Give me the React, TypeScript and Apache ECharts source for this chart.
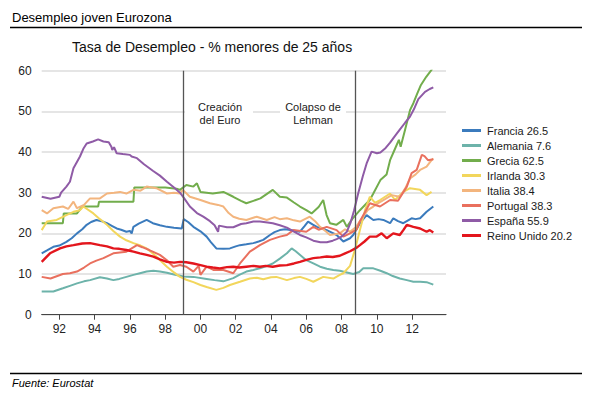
import React, { useEffect, useRef } from "react";
import * as echarts from "echarts";

const seriesNames = [
  "Francia 26.5",
  "Alemania 7.6",
  "Grecia 62.5",
  "Irlanda 30.3",
  "Italia 38.4",
  "Portugal 38.3",
  "España 55.9",
  "Reino Unido 20.2",
];

const seriesColors = ["#3b7bbd", "#6db3aa", "#72ad4c", "#f2d65c", "#f3b57e", "#e9705e", "#8f5ba6", "#e3161d"];

const xTickYears = [1992, 1994, 1996, 1998, 2000, 2002, 2004, 2006, 2008, 2010, 2012];
const yTicks = [0, 10, 20, 30, 40, 50, 60];

const euroYear = 1999.0;
const lehmanYear = 2008.75;

const francia = [[1991.0,15.1],[1991.3,15.8],[1991.66,16.7],[1992.0,17.0],[1992.4,17.9],[1992.7,18.8],[1993.0,20.0],[1993.3,21.0],[1993.55,22.1],[1993.8,22.8],[1994.1,23.3],[1994.4,23.0],[1994.7,22.5],[1995.0,21.8],[1995.25,21.2],[1995.5,20.9],[1995.8,20.4],[1996.0,20.6],[1996.1,20.0],[1996.2,21.6],[1996.5,22.4],[1996.95,23.3],[1997.3,22.5],[1997.7,22.0],[1998.1,21.6],[1998.5,21.4],[1998.94,21.2],[1999.05,23.5],[1999.3,22.8],[1999.6,21.6],[2000.0,20.5],[2000.35,19.2],[2000.6,17.8],[2000.9,16.3],[2001.3,16.2],[2001.67,16.3],[2002.0,16.8],[2002.24,17.1],[2002.6,17.3],[2003.0,17.6],[2003.3,18.0],[2003.56,18.4],[2003.94,19.6],[2004.2,20.3],[2004.5,20.8],[2004.8,21.0],[2005.1,20.8],[2005.4,20.6],[2005.64,20.4],[2005.9,21.8],[2006.1,22.9],[2006.35,22.2],[2006.6,21.6],[2006.9,21.2],[2007.16,20.8],[2007.45,20.2],[2007.72,19.6],[2008.1,18.0],[2008.48,18.8],[2008.66,19.6],[2009.04,22.5],[2009.42,24.5],[2009.8,23.3],[2010.1,23.5],[2010.37,23.3],[2010.75,22.5],[2010.93,23.7],[2011.2,23.0],[2011.5,22.5],[2011.97,23.7],[2012.2,23.5],[2012.45,23.7],[2012.82,25.3],[2013.2,26.6]];

const alemania = [[1991.0,5.7],[1991.66,5.7],[1992.2,6.5],[1992.6,7.1],[1993.0,7.7],[1993.4,8.2],[1993.74,8.5],[1994.3,9.2],[1994.7,8.9],[1995.06,8.5],[1995.4,8.8],[1995.8,9.3],[1996.2,9.8],[1996.57,10.2],[1996.95,10.6],[1997.33,10.8],[1997.7,10.6],[1998.1,10.3],[1998.5,9.9],[1999.03,9.4],[1999.6,9.3],[2000.35,8.8],[2000.8,8.5],[2001.3,8.2],[2001.86,9.0],[2002.2,9.8],[2002.6,10.6],[2003.0,11.0],[2003.37,11.4],[2003.7,11.9],[2004.1,12.6],[2004.5,13.8],[2004.9,15.1],[2005.17,16.3],[2005.4,15.6],[2005.7,14.5],[2006.0,13.4],[2006.4,12.6],[2006.78,11.8],[2007.16,11.3],[2007.53,11.0],[2007.9,10.8],[2008.3,10.4],[2008.66,10.0],[2009.0,10.5],[2009.23,11.4],[2009.8,11.4],[2010.2,10.8],[2010.56,10.2],[2010.9,9.5],[2011.3,8.9],[2011.7,8.5],[2012.07,8.1],[2012.45,8.1],[2012.82,8.0],[2013.2,7.4]];

const grecia = [[1991.0,22.5],[1992.2,22.5],[1992.25,24.9],[1993.0,24.9],[1993.3,26.6],[1994.2,26.6],[1994.25,27.8],[1996.2,27.8],[1996.25,31.3],[1998.0,31.3],[1998.65,31.0],[1998.84,30.7],[1999.2,31.9],[1999.6,31.5],[1999.8,32.3],[2000.0,30.2],[2000.7,29.8],[2001.3,30.2],[2001.86,29.0],[2002.3,28.0],[2002.6,27.4],[2003.0,28.0],[2003.4,28.6],[2004.1,30.7],[2004.5,29.0],[2004.9,28.8],[2005.3,27.6],[2005.64,26.6],[2006.0,25.7],[2006.3,24.9],[2006.7,26.5],[2006.96,28.2],[2007.15,24.5],[2007.34,22.5],[2007.7,22.1],[2008.1,23.3],[2008.3,21.6],[2008.6,23.5],[2009.04,25.7],[2009.6,28.2],[2009.8,29.8],[2010.2,33.1],[2010.55,34.5],[2010.75,38.0],[2011.0,40.5],[2011.25,43.0],[2011.35,41.3],[2011.6,45.5],[2011.88,50.3],[2012.07,52.0],[2012.3,54.5],[2012.5,56.5],[2012.8,58.5],[2013.1,60.2],[2013.2,61.5]];

const irlanda = [[1991.0,20.8],[1991.3,22.9],[1991.85,23.3],[1992.4,24.5],[1992.8,25.3],[1993.17,25.7],[1993.36,26.6],[1993.93,24.9],[1994.3,23.5],[1994.7,22.1],[1995.06,20.6],[1995.44,19.2],[1995.8,18.3],[1996.2,17.6],[1996.6,17.0],[1996.95,16.3],[1997.2,15.4],[1997.5,14.3],[1997.8,13.0],[1998.1,11.8],[1998.5,10.4],[1998.84,9.3],[1999.2,8.6],[1999.6,8.0],[2000.0,7.3],[2000.35,6.8],[2000.9,6.1],[2001.3,6.6],[2001.67,7.3],[2002.24,8.1],[2002.8,8.9],[2003.2,9.1],[2003.56,8.7],[2004.0,9.2],[2004.3,9.3],[2004.9,8.5],[2005.3,9.0],[2005.64,9.3],[2006.0,8.8],[2006.4,8.1],[2006.96,9.3],[2007.53,8.9],[2007.9,9.8],[2008.1,10.2],[2008.48,12.0],[2008.76,16.0],[2009.04,20.8],[2009.33,25.7],[2009.6,29.0],[2009.9,27.5],[2010.18,28.2],[2010.75,29.8],[2011.03,28.2],[2011.5,30.2],[2011.88,31.1],[2012.45,30.7],[2012.82,29.4],[2013.1,30.2]];

const italia = [[1991.0,25.7],[1991.3,24.9],[1991.66,26.2],[1992.2,26.6],[1992.5,26.0],[1992.8,27.8],[1993.0,26.2],[1993.4,27.0],[1993.74,28.6],[1994.3,28.6],[1994.7,29.8],[1995.1,30.0],[1995.44,30.2],[1995.8,29.8],[1996.2,30.7],[1996.6,30.5],[1996.95,31.5],[1997.5,31.1],[1998.1,29.8],[1998.5,30.0],[1998.84,29.8],[1999.0,30.7],[1999.4,29.0],[2000.0,28.2],[2000.54,27.4],[2001.0,27.0],[2001.3,26.6],[2001.6,25.0],[2001.86,24.1],[2002.2,23.6],[2002.6,23.3],[2003.19,24.1],[2003.76,23.3],[2004.2,24.0],[2004.5,23.5],[2004.9,23.7],[2005.3,23.2],[2005.64,22.9],[2006.2,24.1],[2006.5,23.0],[2006.78,21.6],[2007.1,20.5],[2007.34,19.6],[2007.9,20.0],[2008.2,21.0],[2008.48,20.4],[2008.8,21.5],[2009.2,24.0],[2009.5,25.8],[2009.8,26.6],[2010.1,27.5],[2010.37,28.2],[2010.84,29.4],[2011.3,29.0],[2011.6,31.0],[2011.88,33.5],[2012.2,34.5],[2012.45,35.6],[2012.82,36.4],[2013.1,38.0],[2013.2,38.4]];

const portugal = [[1991.0,9.3],[1991.5,8.9],[1992.2,10.0],[1992.6,10.2],[1993.0,10.6],[1993.4,11.6],[1993.74,12.6],[1994.1,13.3],[1994.5,13.9],[1995.06,15.1],[1995.8,15.5],[1996.1,16.3],[1996.4,17.1],[1996.7,16.6],[1997.1,15.9],[1997.7,14.7],[1998.1,13.4],[1998.46,11.8],[1998.84,12.2],[1999.2,11.8],[1999.6,10.6],[1999.9,12.0],[2000.0,9.8],[2000.35,11.8],[2000.73,11.0],[2001.3,11.0],[2001.86,10.2],[2002.24,12.6],[2002.8,15.5],[2003.37,17.1],[2003.94,18.4],[2004.5,19.2],[2004.9,19.6],[2005.27,20.8],[2006.0,20.4],[2006.4,21.6],[2006.7,20.9],[2007.16,21.6],[2007.72,20.8],[2008.1,19.2],[2008.48,20.0],[2008.86,21.0],[2009.04,23.0],[2009.3,25.0],[2009.6,27.4],[2010.18,26.6],[2010.75,28.2],[2011.2,28.0],[2011.7,31.5],[2011.97,34.8],[2012.26,35.6],[2012.55,39.3],[2012.7,39.0],[2012.9,38.0],[2013.2,38.2]];

const espana = [[1991.0,29.0],[1991.5,28.5],[1992.0,29.0],[1992.1,30.0],[1992.4,31.5],[1992.6,32.7],[1992.8,36.0],[1993.17,38.9],[1993.36,40.8],[1993.55,42.1],[1993.9,42.6],[1994.2,43.1],[1994.5,42.6],[1994.8,42.4],[1994.95,41.3],[1995.0,40.5],[1995.1,41.2],[1995.25,39.7],[1995.6,39.5],[1996.0,39.3],[1996.1,38.9],[1996.4,38.5],[1996.8,37.0],[1997.3,35.4],[1997.7,34.2],[1998.1,32.7],[1998.5,31.3],[1998.84,30.0],[1999.05,28.8],[1999.4,26.6],[1999.8,25.0],[2000.16,24.1],[2000.54,23.0],[2000.8,22.0],[2001.0,20.4],[2001.05,21.9],[2001.5,21.5],[2001.86,21.5],[2002.3,22.3],[2002.6,22.5],[2003.0,22.9],[2003.37,22.9],[2003.8,22.7],[2004.1,22.5],[2004.5,22.0],[2004.9,21.4],[2005.3,20.4],[2005.64,19.6],[2006.0,19.0],[2006.4,18.2],[2006.8,17.8],[2007.16,17.8],[2007.5,18.2],[2007.72,18.6],[2008.0,19.2],[2008.3,20.4],[2008.5,22.5],[2008.7,25.5],[2008.94,29.8],[2009.2,34.0],[2009.42,37.2],[2009.7,40.1],[2010.0,39.7],[2010.2,39.9],[2010.5,41.0],[2010.75,42.3],[2011.0,43.8],[2011.3,45.5],[2011.6,47.2],[2011.88,48.7],[2012.1,50.5],[2012.35,53.0],[2012.73,54.8],[2013.0,55.5],[2013.2,55.9]];

const reinoUnido = [[1991.0,13.0],[1991.47,15.1],[1992.04,16.3],[1992.4,16.8],[1992.8,17.1],[1993.3,17.5],[1993.74,17.6],[1994.3,17.1],[1994.7,16.8],[1995.06,16.3],[1995.4,16.2],[1995.8,15.9],[1996.2,15.5],[1996.57,15.1],[1996.95,14.7],[1997.33,14.3],[1997.7,13.6],[1998.1,13.0],[1998.5,12.8],[1998.84,13.0],[1999.2,12.9],[1999.6,12.6],[2000.0,12.2],[2000.35,11.8],[2000.7,11.6],[2001.1,11.4],[2001.5,11.7],[2001.86,11.8],[2002.2,11.6],[2002.6,11.8],[2003.0,12.0],[2003.37,11.8],[2003.7,12.0],[2004.1,11.8],[2004.5,12.1],[2004.9,12.2],[2005.3,12.6],[2005.64,13.0],[2006.0,13.5],[2006.4,13.9],[2006.8,14.1],[2007.16,14.3],[2007.5,14.2],[2007.9,14.5],[2008.2,15.1],[2008.48,15.6],[2008.86,16.5],[2009.04,17.1],[2009.3,18.0],[2009.6,19.2],[2009.99,19.2],[2010.27,20.0],[2010.56,18.8],[2010.93,20.0],[2011.3,19.6],[2011.5,20.8],[2011.7,22.1],[2012.07,21.6],[2012.45,21.2],[2012.82,20.4],[2013.0,20.8],[2013.2,20.2]];

const seriesData = [francia, alemania, grecia, irlanda, italia, portugal, espana, reinoUnido];

const FONT = "'Liberation Sans', Arial, sans-serif";

export default function App() {
  const ref = useRef<HTMLDivElement>(null);
  useEffect(() => {
    if (!ref.current) return;
    const chart = echarts.init(ref.current, undefined, { renderer: "svg" });
    const series: any[] = seriesNames.map((name, i) => ({
      name,
      type: "line",
      data: seriesData[i],
      showSymbol: false,
      symbol: "none",
      lineStyle: { color: seriesColors[i], width: i === 7 ? 2.4 : 2 },
      itemStyle: { color: seriesColors[i] },
      clip: true,
      z: 2 + i * 0.01,
    }));
    series[0].markLine = {
      silent: true,
      symbol: ["none", "none"],
      label: { show: false },
      lineStyle: { color: "#555", width: 1.3, type: "solid" },
      data: [{ xAxis: euroYear }, { xAxis: lehmanYear }],
    };
    chart.setOption({
      animation: false,
      backgroundColor: "#ffffff",
      textStyle: { fontFamily: FONT },
      grid: { left: 41.7, right: 151, top: 70.7, bottom: 82.3, containLabel: false },
      xAxis: {
        type: "value",
        min: 1991,
        max: 2013.92,
        axisLine: { show: true, lineStyle: { color: "#444", width: 1.2 } },
        axisTick: { show: true, length: 5, lineStyle: { color: "#444" }, customValues: xTickYears },
        axisLabel: {
          customValues: xTickYears,
          color: "#222",
          fontSize: 12,
          margin: 8,
          fontFamily: FONT,
          formatter: (v: number) => String(Math.round(v)).slice(2),
        },
        splitLine: { show: false },
      },
      yAxis: {
        type: "value",
        min: yTicks[0],
        max: yTicks[yTicks.length - 1],
        interval: 10,
        axisLine: { show: false },
        axisTick: { show: false },
        axisLabel: { color: "#222", fontSize: 12, margin: 10, fontFamily: FONT },
        splitLine: { show: true, lineStyle: { color: "#dcdcdc", width: 1.6 } },
      },
      legend: {
        orient: "vertical",
        left: 457,
        top: 119,
        icon: "rect",
        itemWidth: 19,
        itemHeight: 3,
        itemGap: 2,
        textStyle: { fontSize: 11, color: "#1a1a1a", lineHeight: 13, fontFamily: FONT, padding: [0, 0, 0, 1] },
        data: seriesNames,
      },
      graphic: [
        { type: "text", x: 12, y: 11, style: { text: "Desempleo joven Eurozona", fill: "#000", font: `13px ${FONT}` } },
        { type: "line", shape: { x1: 10, y1: 27.5, x2: 582, y2: 27.5 }, style: { stroke: "#000", lineWidth: 1.3 } },
        { type: "text", x: 72, y: 40, style: { text: "Tasa de Desempleo - % menores de 25 años", fill: "#111", font: `14px ${FONT}` } },
        { type: "rect", z: 1, shape: { x: 185, y: 99, width: 68, height: 30 }, style: { fill: "#fff" } },
        { type: "rect", z: 1, shape: { x: 280, y: 99, width: 66, height: 30 }, style: { fill: "#fff" } },
        { type: "text", z: 3, x: 220, y: 100, style: { text: "Creación\ndel Euro", fill: "#222", font: `11px ${FONT}`, align: "center", lineHeight: 13 } },
        { type: "text", z: 3, x: 313, y: 100, style: { text: "Colapso de\nLehman", fill: "#222", font: `11px ${FONT}`, align: "center", lineHeight: 13 } },
        { type: "line", shape: { x1: 10, y1: 373.5, x2: 582, y2: 373.5 }, style: { stroke: "#000", lineWidth: 1.3 } },
        { type: "text", x: 12, y: 377, style: { text: "Fuente: Eurostat", fill: "#000", font: `italic 11px ${FONT}` } },
      ],
      series,
    });
    return () => chart.dispose();
  }, []);
  return <div ref={ref} style={{ position: "fixed", left: 0, top: 0, width: 597, height: 397, background: "#fff" }} />;
}
